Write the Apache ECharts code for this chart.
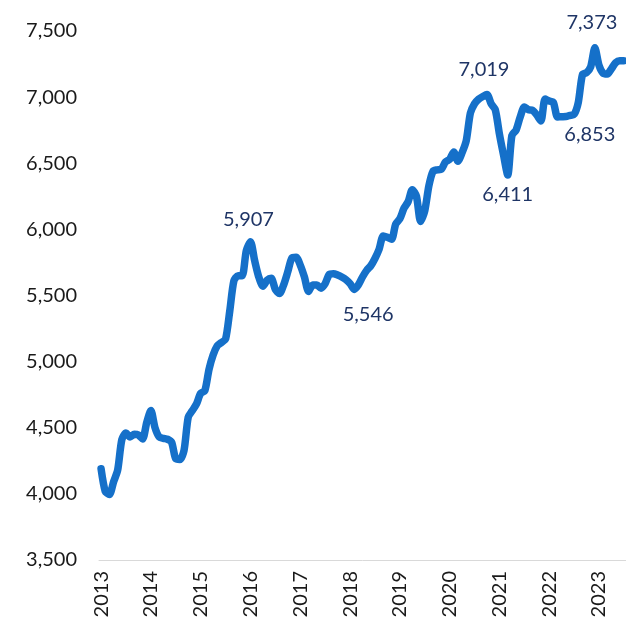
<!DOCTYPE html>
<html>
<head>
<meta charset="utf-8">
<script src="https://cdn.jsdelivr.net/npm/echarts@6/dist/echarts.min.js"></script>
<style>
  html, body { margin: 0; padding: 0; background: #fff; }
  #chart { width: 626px; height: 637px; }
</style>
</head>
<body>
<div id="chart"></div>
<script>
// monthly values, Jan 2013 .. Jul 2023
const years = ['2013', '2014', '2015', '2016', '2017', '2018', '2019', '2020', '2021', '2022', '2023']
const values = [
  4190, 4020, 3995, 4090, 4180, 4410, 4460, 4430, 4450, 4445, 4415, 4540,
  4630, 4500, 4430, 4420, 4413, 4390, 4265, 4260, 4330, 4580, 4630, 4680,
  4760, 4780, 4940, 5050, 5120, 5145, 5170, 5380, 5610, 5650, 5650, 5840,
  5907, 5765, 5640, 5570, 5615, 5630, 5545, 5515, 5580, 5680, 5785, 5790,
  5730, 5640, 5530, 5580, 5580, 5555, 5590, 5660, 5665, 5655, 5640, 5620,
  5590, 5546, 5580, 5640, 5690, 5725, 5780, 5850, 5950, 5940, 5925, 6040,
  6080, 6160, 6210, 6300, 6250, 6060, 6140, 6330, 6440, 6450, 6455, 6510,
  6530, 6585, 6515, 6580, 6670, 6880, 6950, 6985, 7005, 7019, 6950, 6905,
  6720, 6560, 6411, 6710, 6750, 6850, 6925, 6905, 6900, 6865, 6820, 6985,
  6970, 6960, 6850, 6852, 6853, 6862, 6870, 6960, 7170, 7185, 7230, 7373,
  7240, 7180, 7175, 7215, 7260, 7275, 7275
]
// points that carry a value label (index into values)
const labelled = [36, 61, 93, 98, 112, 119]
const yTicks = [3500, 7500, 500]

const months = []
years.forEach(y => {
  for (let m = 1; m <= 12; m++) months.push(y + '-' + (m < 10 ? '0' + m : m))
})
const categories = months.slice(0, values.length)

// label offsets around each labelled point
const offsets = {
  36: [-2, -22],
  61: [14, 25],
  93: [-3, -25],
  98: [0, 20],
  112: [24, 18],
  119: [-3, -25]
}

const fmt = v => v.toLocaleString('en-US')

const chart = echarts.init(document.getElementById('chart'))
chart.setOption({
  animation: false,
  textStyle: { fontFamily: 'Lato' },
  grid: { left: 99, right: 0, top: 31, bottom: 77 },
  xAxis: {
    type: 'category',
    data: categories,
    boundaryGap: true,
    axisLine: { lineStyle: { color: '#d9d9d9', width: 1 } },
    axisTick: { show: false },
    axisLabel: {
      interval: 11,
      rotate: 90,
      margin: 11,
      fontSize: 20,
      color: '#1a1a1a',
      formatter: v => v.slice(0, 4)
    }
  },
  yAxis: {
    type: 'value',
    min: yTicks[0],
    max: yTicks[1],
    interval: yTicks[2],
    splitLine: { show: false },
    axisLine: { show: false },
    axisTick: { show: false },
    axisLabel: {
      margin: 22,
      fontSize: 20,
      color: '#1a1a1a',
      formatter: v => fmt(v)
    }
  },
  series: [
    {
      type: 'line',
      data: values,
      smooth: 0.25,
      showSymbol: false,
      lineStyle: { color: '#1570c9', width: 7.5, cap: 'round', join: 'round' },
      markPoint: {
        symbol: 'circle',
        symbolSize: 1,
        itemStyle: { color: 'rgba(0,0,0,0)' },
        label: {
          show: true,
          position: 'inside',
          fontSize: 20,
          color: '#1f3566',
          fontFamily: 'Lato'
        },
        data: labelled.map(i => ({
          coord: [categories[i], values[i]],
          value: values[i],
          label: { offset: offsets[i], formatter: fmt(values[i]) }
        }))
      }
    }
  ]
})
</script>
</body>
</html>
